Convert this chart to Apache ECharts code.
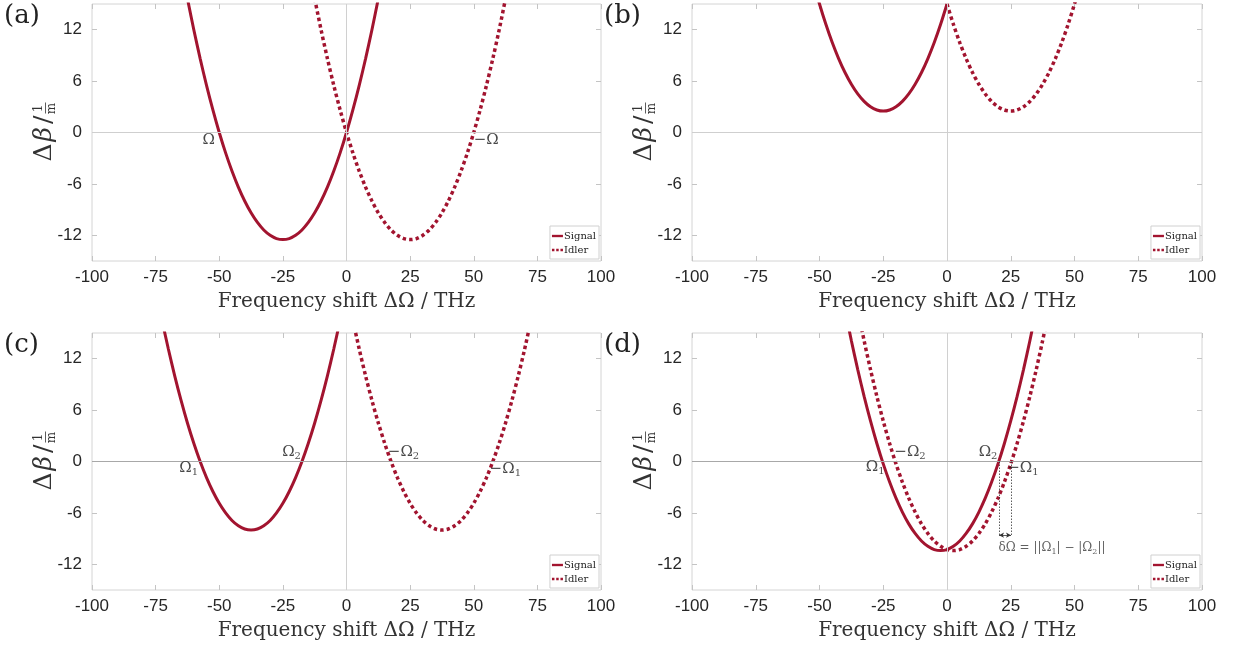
<!DOCTYPE html>
<html>
<head>
<meta charset="utf-8">
<script src="https://cdn.jsdelivr.net/npm/echarts@6/dist/echarts.min.js"></script>
<style>html,body{margin:0;padding:0;background:#fff;}#c{width:1241px;height:651px;}</style>
</head>
<body>
<div id="c"></div>
<script>
// ---------- data ----------
const xTicks = [-100, -75, -50, -25, 0, 25, 50, 75, 100];
const yTicks = [-12, -6, 0, 6, 12];

// (a)
const aSignalX = [-62.5,-60,-57.5,-55,-52.5,-50,-47.5,-45,-42.5,-40,-37.5,-35,-32.5,-30,-27.5,-25,-22.5,-20,-17.5,-15,-12.5,-10,-7.5,-5,-2.5,0,2.5,5,7.5,10,12.5];
const aSignalY = [15.63,12,8.63,5.5,2.63,0,-2.38,-4.5,-6.38,-8,-9.38,-10.5,-11.38,-12,-12.38,-12.5,-12.38,-12,-11.38,-10.5,-9.38,-8,-6.38,-4.5,-2.38,0,2.63,5.5,8.63,12,15.63];
const aIdlerX  = [-12.5,-10,-7.5,-5,-2.5,0,2.5,5,7.5,10,12.5,15,17.5,20,22.5,25,27.5,30,32.5,35,37.5,40,42.5,45,47.5,50,52.5,55,57.5,60,62.5];
const aIdlerY  = [15.63,12,8.63,5.5,2.63,0,-2.38,-4.5,-6.38,-8,-9.38,-10.5,-11.38,-12,-12.38,-12.5,-12.38,-12,-11.38,-10.5,-9.38,-8,-6.38,-4.5,-2.38,0,2.63,5.5,8.63,12,15.63];
// (b)
const bSignalX = [-52.5,-50,-47.5,-45,-42.5,-40,-37.5,-35,-32.5,-30,-27.5,-25,-22.5,-20,-17.5,-15,-12.5,-10,-7.5,-5,-2.5,0];
const bSignalY = [17.63,15,12.63,10.5,8.63,7,5.63,4.5,3.63,3,2.63,2.5,2.63,3,3.63,4.5,5.63,7,8.63,10.5,12.63,15];
const bIdlerX  = [0,2.5,5,7.5,10,12.5,15,17.5,20,22.5,25,27.5,30,32.5,35,37.5,40,42.5,45,47.5,50,52.5];
const bIdlerY  = [15,12.63,10.5,8.63,7,5.63,4.5,3.63,3,2.63,2.5,2.63,3,3.63,4.5,5.63,7,8.63,10.5,12.63,15,17.63];
// (c)
const cSignalX = [-72.5,-70,-67.5,-65,-62.5,-60,-57.5,-55,-52.5,-50,-47.5,-45,-42.5,-40,-37.5,-35,-32.5,-30,-27.5,-25,-22.5,-20,-17.5,-15,-12.5,-10,-7.5,-5,-2.5];
const cSignalY = [16.5,13.13,10,7.13,4.5,2.13,0,-1.88,-3.5,-4.88,-6,-6.88,-7.5,-7.88,-8,-7.88,-7.5,-6.88,-6,-4.88,-3.5,-1.88,0,2.13,4.5,7.13,10,13.13,16.5];
const cIdlerX  = [2.5,5,7.5,10,12.5,15,17.5,20,22.5,25,27.5,30,32.5,35,37.5,40,42.5,45,47.5,50,52.5,55,57.5,60,62.5,65,67.5,70,72.5];
const cIdlerY  = [16.5,13.13,10,7.13,4.5,2.13,0,-1.88,-3.5,-4.88,-6,-6.88,-7.5,-7.88,-8,-7.88,-7.5,-6.88,-6,-4.88,-3.5,-1.88,0,2.13,4.5,7.13,10,13.13,16.5];
// (d)
const dSignalX = [-40,-37.5,-35,-32.5,-30,-27.5,-25,-22.5,-20,-17.5,-15,-12.5,-10,-7.5,-5,-2.5,0,2.5,5,7.5,10,12.5,15,17.5,20,22.5,25,27.5,30,32.5,35];
const dSignalY = [17.73,14.1,10.73,7.6,4.73,2.1,-0.28,-2.4,-4.28,-5.9,-7.28,-8.4,-9.28,-9.9,-10.28,-10.4,-10.28,-9.9,-9.28,-8.4,-7.28,-5.9,-4.28,-2.4,-0.28,2.1,4.73,7.6,10.73,14.1,17.73];
const dIdlerX  = [-35,-32.5,-30,-27.5,-25,-22.5,-20,-17.5,-15,-12.5,-10,-7.5,-5,-2.5,0,2.5,5,7.5,10,12.5,15,17.5,20,22.5,25,27.5,30,32.5,35,37.5,40];
const dIdlerY  = [17.73,14.1,10.73,7.6,4.73,2.1,-0.28,-2.4,-4.28,-5.9,-7.28,-8.4,-9.28,-9.9,-10.28,-10.4,-10.28,-9.9,-9.28,-8.4,-7.28,-5.9,-4.28,-2.4,-0.28,2.1,4.73,7.6,10.73,14.1,17.73];

// annotation texts and their anchor values (THz, 1/m)
const aNotes = [['{m|Ω}', -54.1, -0.9], ['{m|−Ω}', 54.9, -0.9]];
const bNotes = [];
const cNotes = [['{m|Ω}{s|1}', -62, -0.8], ['{m|Ω}{s|2}', -21.6, 1.1], ['{m|−Ω}{s|2}', 22.4, 1.1], ['{m|−Ω}{s|1}', 62.4, -0.9]];
const dNotes = [['{m|Ω}{s|1}', -28.2, -0.7], ['{m|−Ω}{s|2}', -14.5, 1.1], ['{m|Ω}{s|2}', 16.1, 1.1], ['{m|−Ω}{s|1}', 29.8, -0.8],
                ['{d|δΩ = ||Ω}{ds|1}{d|| − |Ω}{ds|2}{d|||}', 41.2, -10.1]];
const dDeltaX = [20.4, 25.1];
const dDeltaY = -8.6;

// ---------- chart ----------
const RED = '#A2142F';
const SERIF = "'DejaVu Serif','Liberation Serif',serif";
const SANS = "'Liberation Sans',Arial,sans-serif";
const grids = [
  {left: 92, top: 4, width: 509, height: 257},
  {left: 692, top: 4, width: 510, height: 257},
  {left: 92, top: 333, width: 509, height: 257},
  {left: 692, top: 333, width: 510, height: 257}
];
const panels = [
  {sx: aSignalX, sy: aSignalY, ix: aIdlerX, iy: aIdlerY, notes: aNotes, zc: '#cfcfcf', lab: '(a)'},
  {sx: bSignalX, sy: bSignalY, ix: bIdlerX, iy: bIdlerY, notes: bNotes, zc: '#cfcfcf', lab: '(b)'},
  {sx: cSignalX, sy: cSignalY, ix: cIdlerX, iy: cIdlerY, notes: cNotes, zc: '#a8a8a8', lab: '(c)'},
  {sx: dSignalX, sy: dSignalY, ix: dIdlerX, iy: dIdlerY, notes: dNotes, zc: '#a8a8a8', lab: '(d)'}
];

const xAxis = [], yAxis = [], series = [], legend = [], graphic = [];
const tickStyle = {show: true, inside: true, length: 5, lineStyle: {color: '#c4c4c4', width: 1}};
const noLine = {show: false, onZero: false};
const noteRich = {
  m: {fontFamily: SERIF, fontSize: 15, color: '#1a1a1a', lineHeight: 18},
  s: {fontFamily: SERIF, fontSize: 10, color: '#1a1a1a', verticalAlign: 'bottom', lineHeight: 12},
  d: {fontFamily: SERIF, fontSize: 12, color: '#3a3a3a', lineHeight: 16},
  ds: {fontFamily: SERIF, fontSize: 8, color: '#3a3a3a', verticalAlign: 'bottom', lineHeight: 10}
};
grids.forEach((g, i) => {
  xAxis.push({type: 'value', gridIndex: i, min: -100, max: 100, interval: 25, position: 'bottom',
    axisLine: noLine, splitLine: {show: false}, axisTick: tickStyle,
    axisLabel: {color: '#262626', fontFamily: SANS, fontSize: 17, margin: 8},
    name: 'Frequency shift ΔΩ / THz', nameLocation: 'middle', nameGap: 31,
    nameTextStyle: {color: '#333', fontFamily: SERIF, fontSize: 20}});
  xAxis.push({type: 'value', gridIndex: i, min: -100, max: 100, interval: 25, position: 'top',
    axisLine: noLine, splitLine: {show: false}, axisTick: tickStyle, axisLabel: {show: false}});
  yAxis.push({type: 'value', gridIndex: i, min: -15, max: 15, position: 'left',
    axisLine: noLine, splitLine: {show: false},
    axisTick: Object.assign({customValues: yTicks}, tickStyle),
    axisLabel: {customValues: yTicks, color: '#262626', fontFamily: SANS, fontSize: 17, margin: 10}});
  yAxis.push({type: 'value', gridIndex: i, min: -15, max: 15, position: 'right',
    axisLine: noLine, splitLine: {show: false},
    axisTick: Object.assign({customValues: yTicks}, tickStyle), axisLabel: {show: false}});
  const p = panels[i];
  // zero lines
  series.push({type: 'line', xAxisIndex: 2 * i, yAxisIndex: 2 * i, data: [[0, 0]], symbol: 'none',
    lineStyle: {opacity: 0}, silent: true, z: 1,
    markLine: {silent: true, symbol: ['none', 'none'], label: {show: false},
      lineStyle: {color: p.zc, width: 1, type: 'solid'},
      data: [{xAxis: 0, lineStyle: {color: '#d0d0d0'}}, {yAxis: 0}]}});
  series.push({type: 'line', name: 'Signal', xAxisIndex: 2 * i, yAxisIndex: 2 * i,
    data: p.sx.map((x, k) => [x, p.sy[k]]), smooth: 0.3, symbol: 'none', clip: true, z: 3,
    itemStyle: {color: RED}, lineStyle: {color: RED, width: 3, type: 'solid'}});
  series.push({type: 'line', name: 'Idler', xAxisIndex: 2 * i, yAxisIndex: 2 * i,
    data: p.ix.map((x, k) => [x, p.iy[k]]), smooth: 0.3, symbol: 'none', clip: true, z: 3,
    itemStyle: {color: RED}, lineStyle: {color: RED, width: 3.5, type: [3.5, 3]}});
  if (p.notes.length) {
    series.push({type: 'scatter', xAxisIndex: 2 * i, yAxisIndex: 2 * i, symbolSize: 0, silent: true, z: 5,
      data: p.notes.map(n => ({name: n[0], value: [n[1], n[2]]})),
      label: {show: true, position: 'inside', formatter: q => q.name, rich: noteRich}});
  }
  legend.push({
    data: [{name: 'Signal', icon: 'path://M0,0H14V3H0Z'},
           {name: 'Idler', icon: 'path://M0,0H3.5V3.5H0Z M6,0H9.5V3.5H6Z M12,0H15.5V3.5H12Z'}],
    orient: 'vertical', right: 1241 - (g.left + g.width) + 2,
    top: g.top + g.height - 35, itemWidth: 11, itemHeight: 8, itemGap: 4, padding: [5, 3, 4, 2],
    borderColor: '#d0d0d0', borderWidth: 1, backgroundColor: '#fff', selectedMode: false,
    itemStyle: {color: RED},
    textStyle: {fontFamily: SERIF, fontSize: 10, color: '#222', padding: [0, 0, 0, -4]}});
  // panel tag
  graphic.push({type: 'text', left: g.left - 88, top: g.top - 1,
    style: {text: p.lab, font: '26px ' + SERIF, fill: '#222'}});
  // y axis name: Δβ / (1/m)
  const cx = g.left - 47, cy = g.top + g.height / 2;
  graphic.push({type: 'group', x: cx, y: cy, rotation: Math.PI / 2, children: [
    {type: 'text', x: 17, y: -1, style: {text: '{a|Δ}{b|β}{c|/}', fill: '#333',
      verticalAlign: 'middle', align: 'right',
      rich: {a: {fontFamily: SERIF, fontSize: 25, fill: '#333', padding: [0, 2, 0, 0]},
             b: {fontFamily: SERIF, fontSize: 25, fontStyle: 'italic', fill: '#333', padding: [0, 3, 0, 0]},
             c: {fontFamily: SERIF, fontSize: 25, fill: '#333'}}}},
    {type: 'text', x: 24, y: -6.5, style: {text: '1', font: '12px ' + SERIF, fill: '#333',
      verticalAlign: 'middle', align: 'center'}},
    {type: 'line', shape: {x1: 19, y1: 0.5, x2: 30, y2: 0.5}, style: {stroke: '#333', lineWidth: 0.8}},
    {type: 'text', x: 24, y: 7, style: {text: 'm', font: '12px ' + SERIF, fill: '#333',
      verticalAlign: 'middle', align: 'center'}}
  ]});
});
// δΩ construction in (d)
series.push({type: 'line', xAxisIndex: 6, yAxisIndex: 6, data: [[0, 0]], symbol: 'none',
  lineStyle: {opacity: 0}, silent: true, z: 4,
  markLine: {silent: true, symbol: ['none', 'none'], label: {show: false},
    lineStyle: {color: '#333', width: 0.8, type: [1.5, 1.5]},
    data: dDeltaX.map(x => [{coord: [x, 0]}, {coord: [x, dDeltaY]}])}});
series.push({type: 'line', xAxisIndex: 6, yAxisIndex: 6, data: [[0, 0]], symbol: 'none',
  lineStyle: {opacity: 0}, silent: true, z: 4,
  markLine: {silent: true, symbol: ['arrow', 'arrow'], symbolSize: [4, 5], label: {show: false},
    lineStyle: {color: '#333', width: 0.8, type: 'solid'},
    data: [[{coord: [dDeltaX[0], dDeltaY]}, {coord: [dDeltaX[1], dDeltaY]}]]}});

const chart = echarts.init(document.getElementById('c'));
chart.setOption({
  animation: false,
  backgroundColor: '#fff',
  grid: grids.map(g => Object.assign({show: true, borderColor: '#d4d4d4', borderWidth: 1,
    backgroundColor: 'transparent'}, g)),
  xAxis, yAxis, series, legend, graphic
});
</script>
</body>
</html>
